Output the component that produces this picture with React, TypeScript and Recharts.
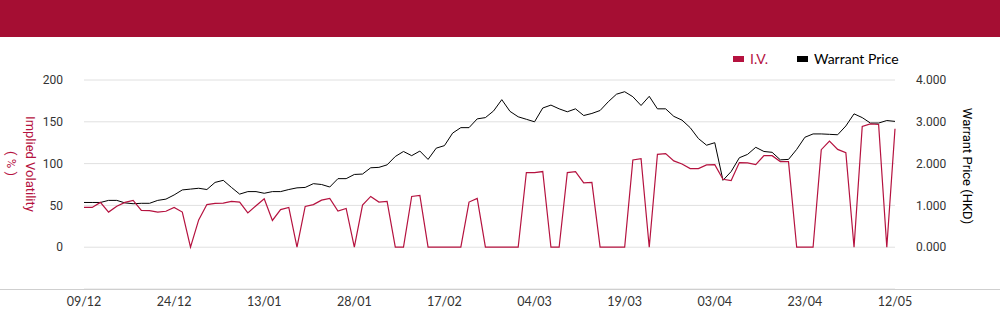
import { LineChart, Line, XAxis, YAxis, CartesianGrid } from 'recharts';

// trading days, 09/12 .. 12/05
const dates = [
  '09/12', '10/12', '11/12', '12/12', '13/12', '16/12', '17/12', '18/12', '19/12', '20/12',
  '23/12', '24/12', '27/12', '30/12', '31/12', '02/01', '03/01', '06/01', '07/01', '08/01',
  '09/01', '10/01', '13/01', '14/01', '15/01', '16/01', '17/01', '20/01', '21/01', '22/01',
  '23/01', '24/01', '27/01', '28/01', '03/02', '04/02', '05/02', '06/02', '07/02', '10/02',
  '11/02', '12/02', '13/02', '14/02', '17/02', '18/02', '19/02', '20/02', '21/02', '24/02',
  '25/02', '26/02', '27/02', '28/02', '03/03', '04/03', '05/03', '06/03', '07/03', '10/03',
  '11/03', '12/03', '13/03', '14/03', '17/03', '18/03', '19/03', '20/03', '21/03', '24/03',
  '25/03', '26/03', '27/03', '28/03', '31/03', '01/04', '02/04', '03/04', '07/04', '08/04',
  '09/04', '10/04', '11/04', '14/04', '15/04', '16/04', '17/04', '22/04', '23/04', '24/04',
  '25/04', '28/04', '29/04', '30/04', '02/05', '06/05', '07/05', '08/05', '09/05', '12/05',
];

// implied volatility (%)
const ivValues = [
  47.6, 47.6, 53.6, 42, 49, 53.6, 56, 44, 43.7, 42,
  43, 47.6, 42, 0, 32.6, 51, 52.4, 52.8, 54.8, 54,
  41, 49.6, 58, 32, 45, 47.6, 0, 48.8, 51, 56.3,
  58.3, 43.3, 46.4, 0, 50.4, 60.7, 54, 54.8, 0, 0,
  60.7, 61.9, 0, 0, 0, 0, 0, 54, 58.3, 0,
  0, 0, 0, 0, 89.3, 89.3, 90.5, 0, 0, 89.3,
  90.5, 77, 77.4, 0, 0, 0, 0, 104.4, 106, 0,
  111.1, 112, 103.2, 99.6, 94, 94, 98.4, 98.8, 81.3, 79.8,
  101.2, 100.8, 98.8, 109.5, 109.5, 102.4, 102.4, 0, 0, 0,
  116.7, 127, 117, 113.1, 0, 144.4, 147.6, 146.8, 0, 141.7,
];

// warrant price (HKD)
const priceValues = [
  1.07, 1.07, 1.07, 1.12, 1.12, 1.06, 1.04, 1.05, 1.05, 1.12,
  1.15, 1.25, 1.37, 1.39, 1.41, 1.38, 1.55, 1.6, 1.43, 1.27,
  1.33, 1.33, 1.29, 1.33, 1.33, 1.38, 1.42, 1.43, 1.52, 1.5,
  1.44, 1.64, 1.64, 1.74, 1.75, 1.9, 1.91, 1.97, 2.17, 2.29,
  2.19, 2.3, 2.1, 2.37, 2.43, 2.73, 2.86, 2.86, 3.07, 3.1,
  3.26, 3.53, 3.25, 3.12, 3.06, 3.0, 3.33, 3.4, 3.31, 3.24,
  3.31, 3.15, 3.2, 3.27, 3.48, 3.66, 3.72, 3.6, 3.39, 3.61,
  3.31, 3.31, 3.13, 3.04, 2.86, 2.6, 2.44, 2.5, 1.6, 1.81,
  2.14, 2.22, 2.39, 2.29, 2.27, 2.09, 2.1, 2.34, 2.63, 2.71,
  2.71, 2.7, 2.69, 2.9, 3.19, 3.1, 2.97, 2.97, 3.03, 3.01,
];

const ivTicks = [0, 50, 100, 150, 200];
const priceTicks = [0, 1, 2, 3, 4];

const RED = '#b5123f';
const HEADER = '#a50e33';
const SANS = "Lato, 'Liberation Sans', sans-serif";
const ROBOTO = "Roboto, 'Liberation Sans', sans-serif";

const data = dates.map((date, i) => ({ date, iv: ivValues[i], price: priceValues[i] }));

export default function App() {
  return (
    <div style={{ position: 'absolute', top: 0, left: 0, width: 1000, height: 324, background: '#fff', overflow: 'hidden' }}>
      <div style={{ position: 'absolute', top: 0, left: 0, width: 1000, height: 37, background: HEADER }} />

      <div style={{ position: 'absolute', top: 50, left: 733, display: 'flex', alignItems: 'center', fontFamily: SANS, fontSize: 14, lineHeight: '18px' }}>
        <span style={{ width: 11, height: 6, background: RED, marginRight: 6 }} />
        <span style={{ color: RED, marginRight: 29 }}>I.V.</span>
        <span style={{ width: 11, height: 6, background: '#000', marginRight: 6 }} />
        <span style={{ color: '#000' }}>Warrant Price</span>
      </div>

      <LineChart
        style={{ position: 'absolute', top: 0, left: 0 }}
        width={1000}
        height={324}
        data={data}
        margin={{ top: 80, right: 0, bottom: 0, left: 0 }}
      >
        <CartesianGrid vertical={false} stroke="#e0e0e0" yAxisId="iv" />
        <XAxis
          dataKey="date"
          interval={10}
          height={35}
          tickLine={false}
          axisLine={false}
          tick={{ fontSize: 12.5, fill: '#333', fontFamily: SANS }}
        />
        <YAxis
          yAxisId="iv"
          domain={[-50, 200]}
          ticks={ivTicks}
          width={84}
          tickLine={false}
          axisLine={false}
          tickMargin={15}
          tick={{ fontSize: 12, fill: '#333', fontFamily: ROBOTO }}
        />
        <YAxis
          yAxisId="price"
          orientation="right"
          domain={[-1, 4]}
          ticks={priceTicks}
          width={105}
          tickLine={false}
          axisLine={false}
          tickMargin={15}
          tickFormatter={(v: number) => v.toFixed(3)}
          tick={{ fontSize: 12, fill: '#333', fontFamily: ROBOTO, textAnchor: 'start' }}
        />
        <Line yAxisId="price" dataKey="price" name="Warrant Price" stroke="#000" strokeWidth={1} dot={false} isAnimationActive={false} />
        <Line yAxisId="iv" dataKey="iv" name="I.V." stroke={RED} strokeWidth={1.2} dot={false} isAnimationActive={false} />
      </LineChart>

      <div style={{ position: 'absolute', top: 289, left: 0, width: 1000, height: 1, background: '#cfcfcf' }} />

      <div
        style={{
          position: 'absolute', left: 20.5, top: 164, transform: 'translate(-50%, -50%)',
          writingMode: 'vertical-rl', textAlign: 'center', fontFamily: ROBOTO, fontSize: 13,
          lineHeight: '19px', color: RED, whiteSpace: 'nowrap',
        }}
      >
        Implied Volatility<br />( % )
      </div>
      <div
        style={{
          position: 'absolute', left: 967, top: 166, transform: 'translate(-50%, -50%)',
          writingMode: 'vertical-rl', fontFamily: ROBOTO, fontSize: 13, lineHeight: '17px',
          color: '#000', whiteSpace: 'nowrap',
        }}
      >
        Warrant Price (HKD)
      </div>
    </div>
  );
}
